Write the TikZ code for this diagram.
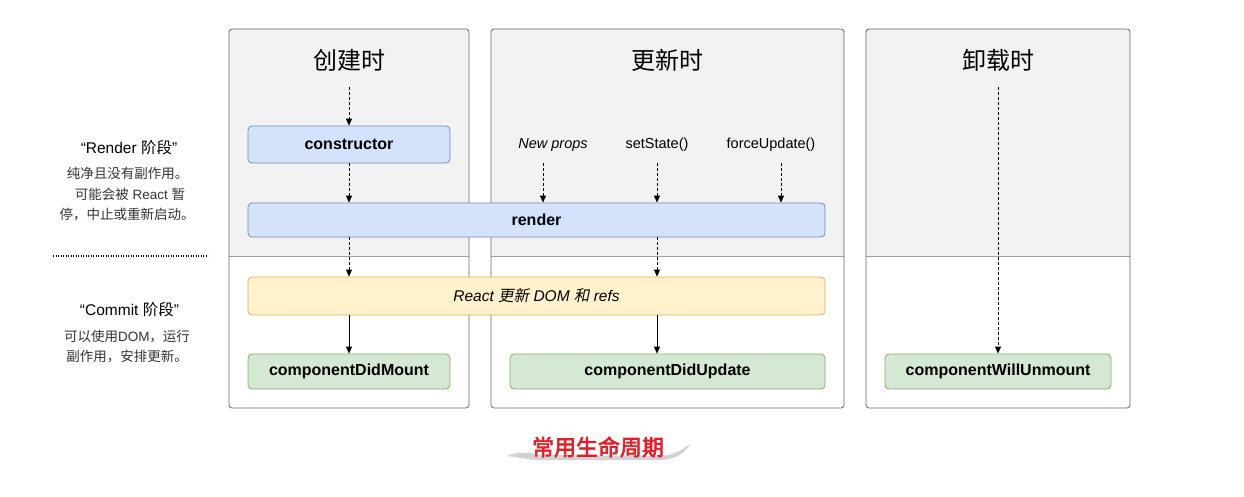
\documentclass[tikz,border=0pt]{standalone}
\usepackage{fontspec}
\setmainfont{Liberation Sans}
\newfontfamily\cjk{Noto Sans CJK SC}
\newfontfamily\cjkit[FakeSlant=0.2]{Noto Sans CJK SC}
\newfontfamily\cjkbold[FakeBold=3]{Noto Sans CJK SC}
\usetikzlibrary{arrows.meta}
\definecolor{panelF}{HTML}{F2F2F2}
\definecolor{panelD}{HTML}{666666}
\definecolor{divD}{HTML}{A0A0A0}
\definecolor{blueF}{HTML}{D4E3FB}
\definecolor{blueD}{HTML}{6C8EBF}
\definecolor{yelF}{HTML}{FFF2CC}
\definecolor{yelD}{HTML}{D6B656}
\definecolor{grnF}{HTML}{D5E8D4}
\definecolor{grnD}{HTML}{82B366}
\definecolor{leftT}{HTML}{333333}
\definecolor{redT}{HTML}{E3202A}
\tikzset{
  x=1pt, y=-1pt,
  box/.style={draw, rounded corners=4pt, line width=0.8pt, inner sep=0pt, anchor=center,
    font=\fontsize{16}{18}\selectfont\bfseries},
  bluebox/.style={box, fill=blueF, draw=blueD},
  yelbox/.style={box, fill=yelF, draw=yelD, font=\fontsize{15.5}{18}\selectfont\itshape},
  grnbox/.style={box, fill=grnF, draw=grnD},
  title/.style={font=\fontsize{24}{26}\selectfont\cjk, inner sep=0pt},
  trig/.style={font=\fontsize{14.5}{17}\selectfont, inner sep=0pt},
  lhead/.style={font=\fontsize{15.5}{18}\selectfont, inner sep=0pt},
  lsmall/.style={font=\fontsize{13.5}{16}\selectfont, text=leftT, inner sep=0pt},
  darr/.style={line width=0.8pt, dash pattern=on 3pt off 2pt, -{Triangle[length=7pt,width=6pt]}},
  sarr/.style={line width=0.8pt, -{Triangle[length=7pt,width=6pt]}},
  panel/.style={draw=panelD, line width=0.8pt, rounded corners=3pt},
}
\begin{document}
\begin{tikzpicture}
\useasboundingbox (0,0) rectangle (1244,496);
% panels
\foreach \xa/\xb in {229/469, 491/844, 866/1130}{
  \begin{scope}
    \clip (\xa,29) rectangle (\xb,256);
    \fill[panelF, rounded corners=3pt] (\xa,29) rectangle (\xb,408);
  \end{scope}
  \draw[divD, line width=0.8pt] (\xa,256) -- (\xb,256);
  \draw[panel] (\xa,29) rectangle (\xb,408);
}
% titles
\node[title] (t1) at (349,60) {创建时};
\node[title] (t2) at (667,60) {更新时};
\node[title] (t3) at (998,60) {卸载时};
% nodes
\node[bluebox, minimum width=202pt, minimum height=37pt] (ctor) at (349,144.5) {constructor};
\node[bluebox, minimum width=577pt, minimum height=34pt] (render) at (536.5,220) {render};
\node[yelbox, minimum width=577pt, minimum height=38pt] (dom) at (536.5,296) {React {\cjkit 更新} DOM {\cjkit 和} refs};
\node[grnbox, minimum width=202pt, minimum height=35pt] (cdm) at (349,371.5) {componentDidMount};
\node[grnbox, minimum width=315pt, minimum height=35pt] (cdu) at (667.5,371.5) {componentDidUpdate};
\node[grnbox, minimum width=226pt, minimum height=35pt] (cwu) at (998,371.5) {componentWillUnmount};
% trigger labels
\node[trig, font=\fontsize{14.5}{17}\selectfont\itshape] (np) at (553,145) {New props};
\node[trig] (ss) at (657,145) {setState()};
\node[trig] (fu) at (771,145) {forceUpdate()};
\coordinate (s1) at (349,87);
\coordinate (s3) at (998,87);
\coordinate (npa) at (543,163);
\coordinate (ssa) at (657,163);
\coordinate (fua) at (781,163);
% connectors
\draw[darr] (s1) -- (ctor.north);
\draw[darr] (ctor.south) -- (ctor.south |- render.north);
\draw[darr] (ctor.south |- render.south) -- (ctor.south |- dom.north);
\draw[sarr] (ctor.south |- dom.south) -- (cdm.north);
\draw[darr] (npa) -- (npa |- render.north);
\draw[darr] (ssa) -- (ssa |- render.north);
\draw[darr] (fua) -- (fua |- render.north);
\draw[darr] (ssa |- render.south) -- (ssa |- dom.north);
\draw[sarr] (ssa |- dom.south) -- (ssa |- cdu.north);
\draw[darr] (s3) -- (cwu.north);
% left annotations
\node[lhead] (rh) at (129,148) {“Render {\cjk 阶段}”};
\node[lsmall] (r1) at (127.5,173) {\cjk 纯净且没有副作用。};
\node[lsmall] (r2) at (130,194) {{\cjk 可能会被} React {\cjk 暂}};
\node[lsmall] (r3) at (127,215) {\cjk 停，中止或重新启动。};
\coordinate (dl) at (53,256);
\coordinate (dr) at (208,256);
\draw[line width=1.4pt, dash pattern=on 1.2pt off 1.3pt] (dl) -- (dr);
\node[lhead] (ch) at (129.5,310) {“Commit {\cjk 阶段}”};
\node[lsmall] (c1) at (127,337) {{\cjk 可以使用}DOM{\cjk ，运行}};
\node[lsmall] (c2) at (127,357) {\cjk 副作用，安排更新。};
% bottom banner
\fill[gray!35] (507,456) .. controls (520,450) and (530,453) .. (540,455)
   -- (660,456) .. controls (675,455) and (682,450) .. (690,444)
   .. controls (686,452) and (676,460) .. (660,460)
   -- (540,460) .. controls (528,460) and (518,457) .. cycle;
\fill[white] (512,452) .. controls (520,447) and (530,448) .. (540,451)
   -- (660,452) .. controls (672,451) and (680,447) .. (686,442)
   -- (686,440) -- (512,440) -- cycle;
\node[font=\fontsize{22}{24}\selectfont\cjkbold, text=redT, inner sep=0pt] (cap) at (598,447) {常用生命周期};
\end{tikzpicture}
\end{document}
